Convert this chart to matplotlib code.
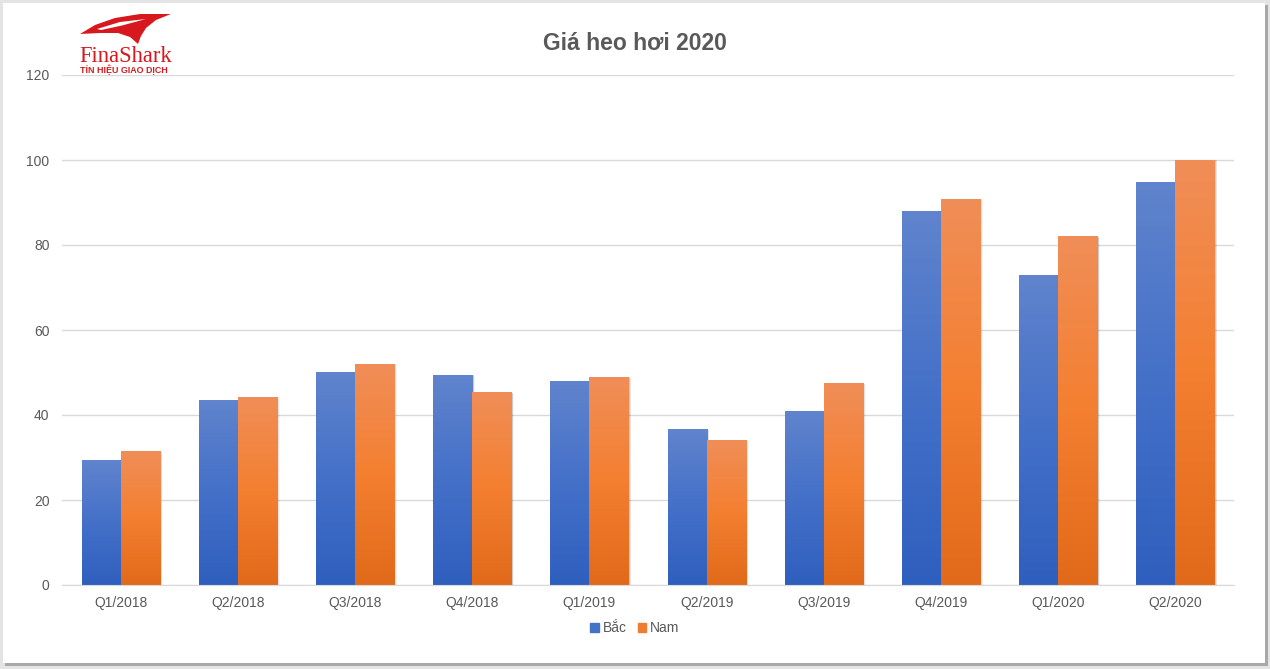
"""Grouped bar chart: live hog prices, North vs South."""

import matplotlib

matplotlib.use("Agg")

import matplotlib.pyplot as plt
import numpy as np
from matplotlib.colors import LinearSegmentedColormap
from matplotlib.patches import Patch, Polygon, Rectangle

quarters = [
    "Q1/2018", "Q2/2018", "Q3/2018", "Q4/2018", "Q1/2019",
    "Q2/2019", "Q3/2019", "Q4/2019", "Q1/2020", "Q2/2020",
]
bac = [29.2, 43.5, 50.1, 49.4, 48.0, 36.5, 40.9, 88.0, 72.9, 94.8]
nam = [31.3, 44.2, 52.0, 45.2, 48.9, 33.9, 47.5, 90.8, 81.9, 100.0]
series_names = ["Bắc", "Nam"]
y_ticks = [0, 20, 40, 60, 80, 100, 120]

W, H = 1270, 669
TEXT_GRAY = "#595959"
GRID_GRAY = "#d9d9d9"

plt.rcParams["font.family"] = ["Liberation Sans", "DejaVu Sans"]

fig = plt.figure(figsize=(W / 100, H / 100), dpi=100)
fig.patch.set_facecolor("#e4e4e4")

# frame of the chart box (pixel coordinates)
frame = fig.add_axes([0, 0, 1, 1], zorder=-5)
frame.set_xlim(0, W)
frame.set_ylim(H, 0)
frame.axis("off")
frame.add_patch(Rectangle((5, 5), W - 7, H - 8, color="#a8a8a8", lw=0))
frame.add_patch(Rectangle((3, 3), W - 8, H - 9, color="white", lw=0))

ax = fig.add_axes([62 / W, (H - 585) / H, (1234 - 62) / W, (585 - 75) / H])
ax.set_facecolor("none")

blue_cmap = LinearSegmentedColormap.from_list(
    "blue", ["#2f5fbe", "#4470c8", "#6084cd"]
)
orange_cmap = LinearSegmentedColormap.from_list(
    "orange", ["#e1691a", "#f47f30", "#f08e58"]
)
gradient = np.linspace(0, 1, 256).reshape(-1, 1)

x = np.arange(len(quarters))
bar_w = 1 / 3


def gradient_bar(xc, height, cmap):
    x0, x1 = xc - bar_w / 2, xc + bar_w / 2
    # soft shadow
    for k, a in enumerate([0.10, 0.07, 0.04]):
        off = 0.012 + k * 0.006
        ax.add_patch(
            Rectangle((x0 + off, -0.5), bar_w, height + 0.5 - off * 6,
                      color="black", alpha=a, lw=0, zorder=2)
        )
    ax.imshow(gradient, cmap=cmap, origin="lower", aspect="auto",
              extent=(x0, x1, 0, height), zorder=3, interpolation="bilinear")


for xi, (b, n) in enumerate(zip(bac, nam)):
    gradient_bar(xi - bar_w / 2, b, blue_cmap)
    gradient_bar(xi + bar_w / 2, n, orange_cmap)

ax.set_xlim(-0.5, len(quarters) - 0.5)
ax.set_ylim(0, 120)
ax.set_yticks(y_ticks)
ax.set_xticks(x, quarters)
ax.tick_params(length=0, colors=TEXT_GRAY, labelsize=10)
ax.tick_params(axis="y", pad=9)
ax.tick_params(axis="x", pad=8)
ax.grid(axis="y", color=GRID_GRAY, lw=1)
ax.set_axisbelow(True)
for side in ["top", "right", "left"]:
    ax.spines[side].set_visible(False)
ax.spines["bottom"].set_color(GRID_GRAY)
ax.spines["bottom"].set_zorder(4)

fig.text(0.5, 1 - 43 / H, "Giá heo hơi 2020", fontsize=16.5, fontweight="bold",
         color=TEXT_GRAY, ha="center", va="center")

handles = [Patch(color="#4472c4"), Patch(color="#ed7d31")]
fig.legend(handles, series_names, loc="center", bbox_to_anchor=(0.5, (H - 628) / H),
           ncol=2, frameon=False, handlelength=0.6, handleheight=0.6,
           handletextpad=0.3, columnspacing=0.8,
           prop={"size": 10}, labelcolor=TEXT_GRAY)

# logo
logo = fig.add_axes([0, 0, 1, 1], zorder=10)
logo.set_xlim(0, W)
logo.set_ylim(H, 0)
logo.axis("off")
red = "#d7191f"
logo.add_patch(Polygon([(80, 34), (95, 25), (115, 18), (140, 14), (171, 14),
                        (156, 20), (146, 28), (141, 36), (138, 44),
                        (130, 37), (118, 33), (100, 33)], color=red, lw=0))
logo.add_patch(Polygon([(97, 29), (120, 22), (146, 19), (122, 25.5),
                        (101, 30)], color="white", lw=0))
logo.text(79, 62, "FinaShark", family="Liberation Serif", fontsize=16.3,
          color=red, va="baseline")
logo.text(80.5, 73, "TÍN HIỆU GIAO DỊCH", fontsize=6.4, fontweight="bold",
          color=red, va="baseline")

fig.savefig("out.png", dpi=100, facecolor=fig.get_facecolor())
